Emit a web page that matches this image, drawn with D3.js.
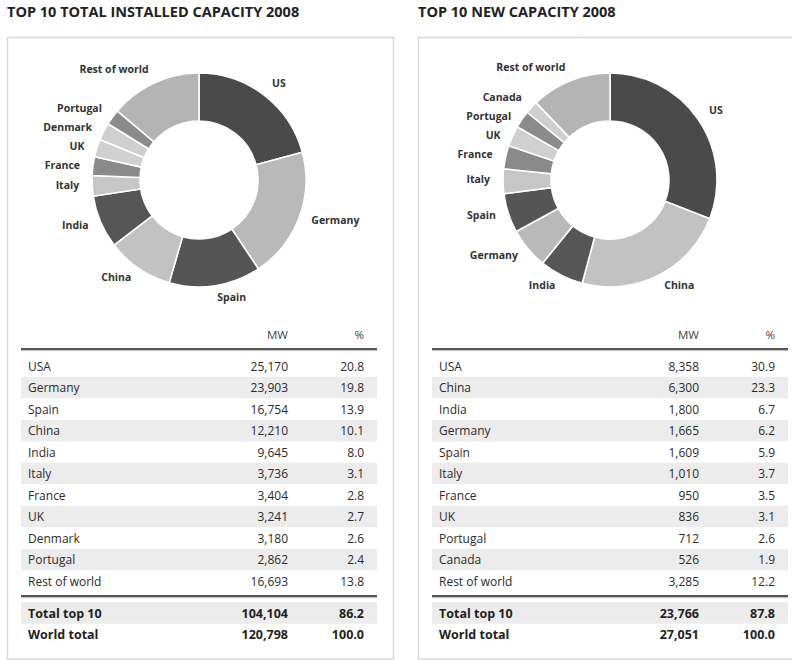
<!DOCTYPE html>
<html>
<head>
<meta charset="utf-8">
<script src="https://cdn.jsdelivr.net/npm/d3@7"></script>
<style>
  html, body { margin: 0; padding: 0; background: #fff; }
  svg { display: block; }
  text { font-family: "Open Sans", "Noto Sans", sans-serif; fill: #2b2b2b; }
</style>
</head>
<body>
<svg id="chart" width="792" height="660"></svg>
<script>
// ---- Data: top 10 total installed wind capacity, 2008 ----
const totalSlices = ["US", "Germany", "Spain", "China", "India", "Italy", "France", "UK", "Denmark", "Portugal", "Rest of world"];
const totalRows   = ["USA", "Germany", "Spain", "China", "India", "Italy", "France", "UK", "Denmark", "Portugal", "Rest of world"];
const totalMW     = [25170, 23903, 16754, 12210, 9645, 3736, 3404, 3241, 3180, 2862, 16693];
const totalPct    = [20.8, 19.8, 13.9, 10.1, 8.0, 3.1, 2.8, 2.7, 2.6, 2.4, 13.8];
const totalSumLabels = ["Total top 10", "World total"];
const totalSumMW     = [104104, 120798];
const totalSumPct    = [86.2, 100.0];

// ---- Data: top 10 new capacity, 2008 ----
const newSlices = ["US", "China", "India", "Germany", "Spain", "Italy", "France", "UK", "Portugal", "Canada", "Rest of world"];
const newRows   = ["USA", "China", "India", "Germany", "Spain", "Italy", "France", "UK", "Portugal", "Canada", "Rest of world"];
const newMW     = [8358, 6300, 1800, 1665, 1609, 1010, 950, 836, 712, 526, 3285];
const newPct    = [30.9, 23.3, 6.7, 6.2, 5.9, 3.7, 3.5, 3.1, 2.6, 1.9, 12.2];
const newSumLabels = ["Total top 10", "World total"];
const newSumMW     = [23766, 27051];
const newSumPct    = [87.8, 100.0];

const headers = ["MW", "%"];

// Grey tone per country (shared by both donuts)
const shade = d3.scaleOrdinal()
  .domain(["US", "Germany", "Spain", "China", "India", "Italy", "France", "UK", "Denmark", "Portugal", "Canada", "Rest of world"])
  .range(["#4a4a4a", "#b9b9b9", "#555555", "#c2c2c2", "#565656", "#c6c6c6", "#8a8a8a", "#d0d0d0", "#cfcfcf", "#8b8b8b", "#cfcfcf", "#b4b4b4"]);

const svg = d3.select("#chart");
const fmtMW = d3.format(",");
const fmtPct = d3.format(".1f");

function panel(x0, title, slices, rows, mw, pct, sumLabels, sumMW, sumPct) {
  const g = svg.append("g").attr("transform", `translate(${x0},0)`);

  g.append("text")
    .attr("x", 0).attr("y", 11.5)
    .attr("dominant-baseline", "central")
    .style("font-size", "14.5px").style("font-weight", 700).style("fill", "#222")
    .text(title);

  g.append("rect")
    .attr("x", 0.5).attr("y", 37.5)
    .attr("width", 386).attr("height", 621.5)
    .attr("fill", "none").attr("stroke", "#d9d9d9").attr("stroke-width", 1.5);

  // Donut
  const cx = 192, cy = 180, R = 107, r = 59;
  const items = slices.map((s, i) => ({ name: s, value: mw[i] }));
  const arcs = d3.pie().sort(null).value(d => d.value)(items);
  const arc = d3.arc().innerRadius(r).outerRadius(R);
  const dg = g.append("g").attr("transform", `translate(${cx},${cy})`);
  dg.selectAll("path").data(arcs).join("path")
    .attr("d", arc)
    .attr("fill", d => shade(d.data.name))
    .attr("stroke", "#fff").attr("stroke-width", 1.6);

  // Labels outside the ring, nudged apart vertically on the crowded left side
  const LR = 120;
  const labels = arcs.map(d => {
    const a = (d.startAngle + d.endAngle) / 2;
    return { name: d.data.name, a, x: LR * Math.sin(a), y: -LR * Math.cos(a) };
  });
  const left = labels.filter(l => Math.sin(l.a) < 0).sort((p, q) => p.y - q.y);
  for (let i = 1; i < left.length; i++) {
    if (left[i].y - left[i - 1].y < 19) left[i].y = left[i - 1].y + 19;
  }
  dg.selectAll("text.lbl").data(labels).join("text")
    .attr("class", "lbl")
    .attr("x", d => d.x).attr("y", d => d.y - 2)
    .attr("text-anchor", d => Math.sin(d.a) < 0 ? "end" : "start")
    .attr("dominant-baseline", "central")
    .style("font-size", "10.5px").style("font-weight", 700).style("fill", "#333")
    .text(d => d.name);

  // Table
  const xL = 14, xR = 370, xName = 21, xMW = 281, xPct = 357;
  const yRow = d3.scaleLinear().domain([0, rows.length - 1]).range([366, 581]);
  const rowH = 21.5;
  const fs = "12px";
  const tg = g.append("g");

  tg.append("text").attr("x", xMW).attr("y", 334).attr("text-anchor", "end")
    .attr("dominant-baseline", "central").style("font-size", "11.5px").style("fill", "#444").text(headers[0]);
  tg.append("text").attr("x", xPct).attr("y", 334).attr("text-anchor", "end")
    .attr("dominant-baseline", "central").style("font-size", "11.5px").style("fill", "#444").text(headers[1]);

  tg.selectAll("rect.band").data(rows.map((d, i) => i).filter(i => i % 2 === 1)).join("rect")
    .attr("class", "band")
    .attr("x", xL).attr("width", xR - xL)
    .attr("y", i => yRow(i) - rowH / 2).attr("height", rowH)
    .attr("fill", "#ececec");

  [349, 596].forEach(y => {
    tg.append("line").attr("x1", xL).attr("x2", xR).attr("y1", y).attr("y2", y)
      .attr("stroke", "#555").attr("stroke-width", 2);
    tg.append("line").attr("x1", xL).attr("x2", xR).attr("y1", y + 1.6).attr("y2", y + 1.6)
      .attr("stroke", "#bbb").attr("stroke-width", 1);
  });

  const rowG = tg.selectAll("g.row").data(rows).join("g").attr("class", "row")
    .attr("transform", (d, i) => `translate(0,${yRow(i)})`);
  rowG.append("text").attr("x", xName).attr("dominant-baseline", "central")
    .style("font-size", fs).text(d => d);
  rowG.append("text").attr("x", xMW).attr("text-anchor", "end").attr("dominant-baseline", "central")
    .style("font-size", fs).text((d, i) => fmtMW(mw[i]));
  rowG.append("text").attr("x", xPct).attr("text-anchor", "end").attr("dominant-baseline", "central")
    .style("font-size", fs).text((d, i) => fmtPct(pct[i]));

  // Totals
  const ySum = d3.scaleLinear().domain([0, 1]).range([613, 634]);
  tg.append("rect").attr("x", xL).attr("width", xR - xL)
    .attr("y", ySum(0) - rowH / 2).attr("height", rowH).attr("fill", "#ececec");
  const sumG = tg.selectAll("g.sum").data(sumLabels).join("g").attr("class", "sum")
    .attr("transform", (d, i) => `translate(0,${ySum(i)})`)
    .style("font-weight", 700);
  sumG.append("text").attr("x", xName).attr("dominant-baseline", "central")
    .style("font-size", "12.5px").style("fill", "#222").text(d => d);
  sumG.append("text").attr("x", xMW).attr("text-anchor", "end").attr("dominant-baseline", "central")
    .style("font-size", "12.5px").style("fill", "#222").text((d, i) => fmtMW(sumMW[i]));
  sumG.append("text").attr("x", xPct).attr("text-anchor", "end").attr("dominant-baseline", "central")
    .style("font-size", "12.5px").style("fill", "#222").text((d, i) => fmtPct(sumPct[i]));
}

panel(7, "TOP 10 TOTAL INSTALLED CAPACITY 2008", totalSlices, totalRows, totalMW, totalPct, totalSumLabels, totalSumMW, totalSumPct);
panel(418, "TOP 10 NEW CAPACITY 2008", newSlices, newRows, newMW, newPct, newSumLabels, newSumMW, newSumPct);
</script>
</body>
</html>
